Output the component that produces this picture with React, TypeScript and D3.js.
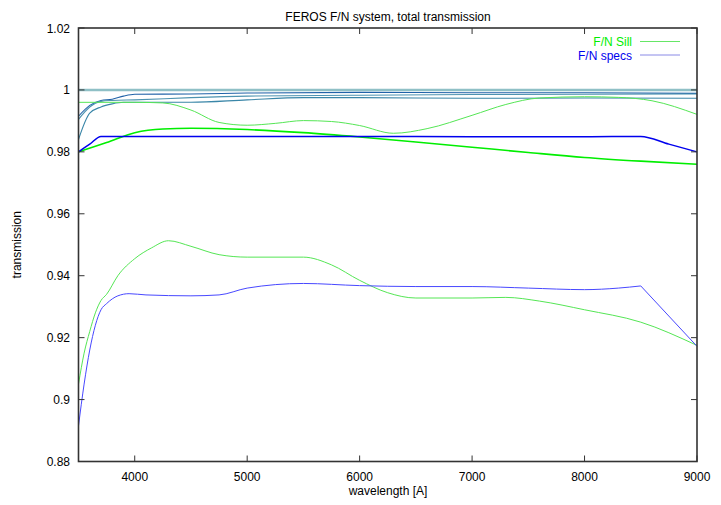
import React from "react";
import * as d3 from "d3";

const W = 721, H = 505;
const M = { left: 78.5, right: 697, top: 28, bottom: 461.5 };

const xTicks = [4000, 5000, 6000, 7000, 8000, 9000];
const yTicks = [0.88, 0.9, 0.92, 0.94, 0.96, 0.98, 1, 1.02];

// F/N Sill (green)
const sillUpper: [number, number][] = [
  [3500, 0.996], [4000, 0.996], [4250, 0.9958], [4500, 0.9935], [4750, 0.9895], [5000, 0.9886],
  [5250, 0.9892], [5500, 0.9901], [5750, 0.9898], [6000, 0.9885], [6300, 0.986], [6600, 0.9875],
  [7000, 0.9918], [7300, 0.9953], [7600, 0.9974], [8000, 0.9978], [8300, 0.9976], [8600, 0.9965], [9000, 0.9921],
];
const sillMid: [number, number][] = [
  [3500, 0.98], [3750, 0.983], [4000, 0.9862], [4250, 0.9874], [4500, 0.9876], [5000, 0.9872],
  [5500, 0.9862], [6000, 0.9848], [6500, 0.9832], [7000, 0.9815], [7500, 0.9798], [8000, 0.9782],
  [8500, 0.977], [9000, 0.976],
];
const sillLower: [number, number][] = [
  [3500, 0.905], [3550, 0.915], [3600, 0.922], [3650, 0.928], [3700, 0.932], [3750, 0.934],
  [3850, 0.94], [4000, 0.9455], [4150, 0.949], [4300, 0.9513], [4500, 0.9495], [4750, 0.9468],
  [5000, 0.946], [5500, 0.946], [5750, 0.9435], [6000, 0.9385], [6250, 0.9345], [6500, 0.9328],
  [7000, 0.9328], [7300, 0.933], [7600, 0.9318], [8000, 0.929], [8500, 0.925], [9000, 0.9175],
];

// F/N specs (blue)
const specsMid: [number, number][] = [
  [3500, 0.98], [3600, 0.9825], [3700, 0.985], [4000, 0.985], [5000, 0.985], [6000, 0.985],
  [7000, 0.9849], [8000, 0.9849], [8500, 0.985], [8750, 0.9825], [9000, 0.98],
];
const specsLower: [number, number][] = [
  [3500, 0.8915], [3550, 0.905], [3600, 0.916], [3650, 0.924], [3700, 0.929], [3750, 0.931],
  [3850, 0.9335], [3950, 0.9342], [4100, 0.9338], [4500, 0.9335], [4750, 0.9338], [5000, 0.936],
  [5500, 0.9375], [6000, 0.9368], [6500, 0.9365], [7000, 0.9365], [7500, 0.936], [8000, 0.9355],
  [8300, 0.936], [8500, 0.9367],
];
const specsLowerTail: [number, number][] = [[8500, 0.9367], [9000, 0.9172]];

// curves near unity
const unityFlat: [number, number][] = [[3500, 1.0], [9000, 1.0]];
const nearA: [number, number][] = [
  [3500, 0.9915], [3600, 0.995], [3700, 0.9966], [3800, 0.997], [3900, 0.998], [4000, 0.9986],
  [4500, 0.9987], [5000, 0.999], [6000, 0.9992], [7000, 0.9991], [8000, 0.9991], [9000, 0.9989],
];
const nearB: [number, number][] = [
  [3500, 0.9905], [3600, 0.9945], [3700, 0.9963], [3800, 0.9966], [4000, 0.9968], [4500, 0.9975],
  [5000, 0.998], [6000, 0.9983], [7000, 0.9985], [8000, 0.9986], [9000, 0.9987],
];
const nearC: [number, number][] = [
  [3500, 0.984], [3600, 0.9925], [3700, 0.9945], [3800, 0.9955], [3900, 0.996], [4500, 0.996],
  [5000, 0.9968], [5500, 0.9975], [6000, 0.9975], [7000, 0.9973], [8000, 0.9974], [9000, 0.9973],
];

export default function App() {
  const x = d3.scaleLinear().domain([3500, 9000]).range([M.left, M.right]);
  const y = d3.scaleLinear().domain([0.88, 1.02]).range([M.bottom, M.top]);
  const line = d3
    .line<[number, number]>()
    .x((d) => x(d[0]))
    .y((d) => y(d[1]))
    .curve(d3.curveMonotoneX);
  const lin = d3.line<[number, number]>().x((d) => x(d[0])).y((d) => y(d[1]));

  const font = "'Liberation Sans', Arial, sans-serif";
  const tl = 6;

  return (
    <svg width={W} height={H} style={{ position: "absolute", left: 0, top: 0, background: "#fff" }}>
      <rect x={0} y={0} width={W} height={H} fill="#fff" />
      <g fill="none">
        <path d={lin(unityFlat)!} stroke="#8fc0c6" strokeWidth={2.6} />
        <path d={line(nearA)!} stroke="#2062a8" strokeWidth={1.1} />
        <path d={line(nearB)!} stroke="#4d93b0" strokeWidth={1.1} />
        <path d={line(nearC)!} stroke="#3a86a8" strokeWidth={1.1} />
        <path d={line(sillUpper)!} stroke="#55e655" strokeWidth={1} />
        <path d={line(sillMid)!} stroke="#00ee00" strokeWidth={1.6} />
        <path d={line(sillLower)!} stroke="#55e655" strokeWidth={1} />
        <path d={line(specsMid)!} stroke="#0000ee" strokeWidth={1.5} />
        <path d={line(specsLower)! + lin(specsLowerTail)!.replace(/^M/, "L")} stroke="#4848ff" strokeWidth={1} />
      </g>

      {/* frame */}
      <rect x={M.left} y={M.top} width={M.right - M.left} height={M.bottom - M.top} fill="none" stroke="#333" strokeWidth={1.6} />

      {/* ticks */}
      <g stroke="#333" strokeWidth={1}>
        {yTicks.map((t) => (
          <g key={"y" + t}>
            <line x1={M.left} x2={M.left + tl} y1={y(t)} y2={y(t)} />
            <line x1={M.right} x2={M.right - tl} y1={y(t)} y2={y(t)} />
          </g>
        ))}
        {xTicks.map((t) => (
          <g key={"x" + t}>
            <line x1={x(t)} x2={x(t)} y1={M.bottom} y2={M.bottom - tl} />
            <line x1={x(t)} x2={x(t)} y1={M.top} y2={M.top + tl} />
          </g>
        ))}
      </g>

      <g fontFamily={font} fontSize={12} fill="#000">
        {yTicks.map((t) => (
          <text key={"yl" + t} x={70} y={y(t) + 4.5} textAnchor="end">
            {String(+t.toFixed(2))}
          </text>
        ))}
        {xTicks.map((t) => (
          <text key={"xl" + t} x={x(t)} y={481} textAnchor="middle">
            {t}
          </text>
        ))}
        <text x={388} y={21} textAnchor="middle">FEROS F/N system, total transmission</text>
        <text x={388} y={495} textAnchor="middle">wavelength [A]</text>
        <text transform={`translate(21,${(M.top + M.bottom) / 2}) rotate(-90)`} textAnchor="middle">
          transmission
        </text>
      </g>

      {/* legend */}
      <g fontFamily={font} fontSize={12}>
        <text x={632} y={45.5} textAnchor="end" fill="#00ee00">F/N Sill</text>
        <line x1={640} x2={680} y1={41.5} y2={41.5} stroke="#66e666" strokeWidth={1} />
        <text x={632} y={59.5} textAnchor="end" fill="#0000ee">F/N specs</text>
        <line x1={640} x2={680} y1={55} y2={55} stroke="#8a8ae6" strokeWidth={1} />
      </g>
    </svg>
  );
}
